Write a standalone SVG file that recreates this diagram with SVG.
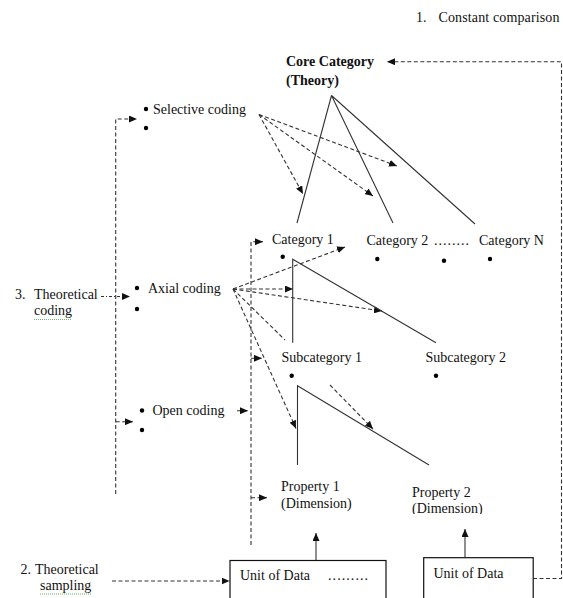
<svg xmlns="http://www.w3.org/2000/svg" width="563" height="598" viewBox="0 0 563 598">
<style>
.t{font-family:"Liberation Serif","Times New Roman",serif;font-size:14px;fill:#111}
.b{font-weight:bold}
.solid{fill:none;stroke:#333;stroke-width:1.1}
.dash{fill:none;stroke:#333;stroke-width:1.1;stroke-dasharray:4 2.5}
.dd{fill:none;stroke:#333;stroke-width:1.1;stroke-dasharray:3 2 1 2}
.arr{marker-end:url(#ah)}
.dot{fill:#000}
.box{fill:#fff;stroke:#111;stroke-width:1.2}
.sq{fill:none;stroke:#6b6;stroke-width:1;stroke-dasharray:1 1}
</style>
<defs>
<marker id="ah" markerUnits="userSpaceOnUse" markerWidth="8" markerHeight="7" refX="8" refY="3.5" orient="auto">
<path d="M0,0 L8,3.5 L0,7 z" fill="#111"/>
</marker>
<clipPath id="clipdim"><rect x="400" y="495" width="100" height="19"/></clipPath>
</defs>
<rect width="563" height="598" fill="#fff"/>

<g id="connectors">
<!-- constant comparison loop -->
<path class="dash" d="M533,578.5 H561.5 V61.7 H387" marker-end="url(#ah)"/>
<!-- theoretical coding bracket -->
<path class="dash" d="M115.7,494 V119 H137" marker-end="url(#ah)"/>
<path class="dash arr" d="M115.7,421.7 H133"/>
<path class="dd arr" d="M101,296.5 H130"/>
<!-- category bracket -->
<path class="dash" d="M251,545 V241.7 H263" marker-end="url(#ah)"/>
<path class="dash arr" d="M251,358.3 H262"/>
<path class="dash arr" d="M251,497.7 H267"/>
<path class="dash arr" d="M237,410.7 H248"/>
<!-- theoretical sampling -->
<path class="dash arr" d="M112,581 H229.5"/>
<!-- selective coding arrows -->
<path class="dash arr" d="M259,114.5 L303,194"/>
<path class="dash arr" d="M259,114.5 L373,196"/>
<path class="dash arr" d="M259,114.5 L397,166"/>
<!-- axial coding arrows -->
<path class="dash arr" d="M233,289 L345,247"/>
<path class="dash arr" d="M233,289 L293,289"/>
<path class="dash arr" d="M233,289 L382,311"/>
<path class="dash" d="M233,289 L285,340"/>
<path class="dash arr" d="M330,385 L373,429"/>
<path class="dash arr" d="M233,289 L296,428.5"/>
<!-- core category tree -->
<path class="solid" d="M331.5,95.5 L297,223 M331.5,95.5 L393,223 M331.5,95.5 L475,224"/>
<!-- category 1 to subcategories -->
<path class="solid" d="M292.7,342.7 V259.3 L436,342.7"/>
<!-- subcategory 1 to properties -->
<path class="solid" d="M297.5,465 V385.7 L429,465"/>
<!-- units of data up arrows -->
<path class="solid arr" d="M316,560.5 V533"/>
<path class="solid arr" d="M465,557.7 V529"/>
</g>

<g id="constant-comparison">
<text class="t" x="416" y="22">1.</text>
<text class="t" x="438.5" y="22" textLength="121" lengthAdjust="spacing">Constant comparison</text>
</g>

<g id="core-category">
<text class="t b" x="286" y="66">Core Category</text>
<text class="t b" x="286" y="85">(Theory)</text>
</g>

<g id="selective-coding">
<circle class="dot" cx="146" cy="109" r="2.2"/>
<circle class="dot" cx="146" cy="128" r="2.2"/>
<text class="t" x="153" y="114">Selective coding</text>
</g>

<g id="theoretical-coding">
<text class="t" x="15" y="299">3.</text>
<text class="t" x="34" y="299">Theoretical</text>
<text class="t" x="34" y="315">coding</text>
<path class="sq" d="M34,319.5 H72"/>
</g>

<g id="axial-coding">
<circle class="dot" cx="137" cy="288" r="2.2"/>
<circle class="dot" cx="137" cy="309" r="2.2"/>
<text class="t" x="148" y="293">Axial coding</text>
</g>

<g id="open-coding">
<circle class="dot" cx="142" cy="410.5" r="2.2"/>
<circle class="dot" cx="142" cy="430" r="2.2"/>
<text class="t" x="152.5" y="415">Open coding</text>
</g>

<g id="category-1">
<text class="t" x="272" y="244">Category 1</text>
<circle class="dot" cx="282.7" cy="256.7" r="2.2"/>
</g>

<g id="category-2">
<text class="t" x="366.5" y="245">Category 2</text>
<circle class="dot" cx="377.3" cy="259" r="2.2"/>
</g>

<g id="category-dots">
<text class="t" x="434" y="245" textLength="35" lengthAdjust="spacing">........</text>
<circle class="dot" cx="444" cy="260.7" r="2.2"/>
</g>

<g id="category-n">
<text class="t" x="479" y="245">Category N</text>
<circle class="dot" cx="490" cy="259" r="2.2"/>
</g>

<g id="subcategory-1">
<text class="t" x="281.5" y="362">Subcategory 1</text>
<circle class="dot" cx="291.7" cy="375.7" r="2.2"/>
</g>

<g id="subcategory-2">
<text class="t" x="425.5" y="362">Subcategory 2</text>
<circle class="dot" cx="436" cy="375.7" r="2.2"/>
</g>

<g id="property-1">
<text class="t" x="281" y="491">Property 1</text>
<text class="t" x="281" y="507.5">(Dimension)</text>
</g>

<g id="property-2">
<text class="t" x="412" y="497">Property 2</text>
<text class="t" x="412" y="513" clip-path="url(#clipdim)">(Dimension)</text>
</g>

<g id="theoretical-sampling">
<text class="t" x="20.5" y="573.5">2.</text>
<text class="t" x="35" y="573.5">Theoretical</text>
<text class="t" x="40" y="590">sampling</text>
<path class="sq" d="M40,594 H91"/>
</g>

<g id="unit-of-data-1">
<rect class="box" x="230" y="560.5" width="156" height="50"/>
<text class="t" x="240" y="580">Unit of Data</text>
<text class="t" x="328" y="580" textLength="40" lengthAdjust="spacing">.........</text>
</g>

<g id="unit-of-data-2">
<rect class="box" x="423.7" y="557.7" width="109.5" height="50"/>
<text class="t" x="433.5" y="577.5">Unit of Data</text>
</g>
</svg>
